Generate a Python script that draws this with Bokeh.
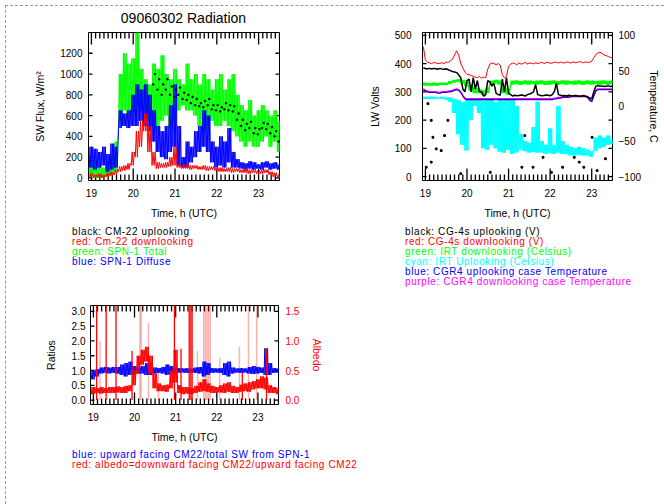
from bokeh.plotting import figure
from bokeh.models import Range1d, LinearAxis, FixedTicker, PrintfTickFormatter, Div
from bokeh.layouts import column, row
from bokeh.embed import file_html
from bokeh.resources import INLINE

FONT = "Liberation Sans"

# Start of each 0.1 h time bin (UTC hours)
bin_start = [18.95, 19.05, 19.15, 19.25, 19.35, 19.45, 19.55, 19.65, 19.75, 19.85,
             19.95, 20.05, 20.15, 20.25, 20.35, 20.45, 20.55, 20.65, 20.75, 20.85,
             20.95, 21.05, 21.15, 21.25, 21.35, 21.45, 21.55, 21.65, 21.75, 21.85,
             21.95, 22.05, 22.15, 22.25, 22.35, 22.45, 22.55, 22.65, 22.75, 22.85,
             22.95, 23.05, 23.15, 23.25, 23.35, 23.45]

# ---------------- SW radiation (W/m^2): low / high within each bin ----------------
spn_total_lo = [20, 0, 0, 0, 10, 30, 60, 550, 650, 600, 650, 700, 650, 600, 550, 500, 450, 550, 600, 500,
                550, 650, 700, 650, 650, 600, 500, 450, 500, 550, 500, 500, 550, 500, 450, 400, 350, 300, 350, 300,
                300, 350, 400, 300, 350, 250]
spn_total_hi = [180, 150, 120, 100, 160, 200, 350, 1000, 1200, 1100, 1150, 1400, 1050, 950, 900, 1100, 1050, 1180, 1000, 950,
                1050, 950, 900, 1100, 950, 1000, 900, 1000, 950, 850, 950, 1000, 850, 950, 1000, 800, 700, 650, 750, 600,
                650, 700, 650, 600, 650, 550]
spn_diffuse_lo = [100, 80, 100, 120, 60, 80, 100, 480, 500, 480, 500, 500, 550, 500, 450, 350, 250, 200, 180, 250,
                  300, 120, 100, 100, 150, 200, 250, 300, 250, 150, 100, 120, 100, 150, 100, 100, 90, 80, 90, 80,
                  90, 80, 100, 80, 90, 80]
spn_diffuse_hi = [300, 280, 250, 300, 230, 330, 300, 650, 620, 650, 800, 900, 850, 900, 800, 650, 500, 450, 500, 700,
                  900, 500, 200, 350, 300, 450, 500, 650, 600, 350, 300, 400, 350, 480, 250, 180, 150, 140, 160, 150,
                  130, 150, 160, 140, 150, 130]
cm22_down_lo = [0, 0, 0, 0, 10, 20, 30, 60, 70, 80, 120, 200, 300, 450, 250, 120, 90, 100, 100, 110,
                120, 100, 90, 90, 80, 90, 80, 80, 70, 80, 70, 60, 60, 60, 50, 60, 50, 50, 40, 50,
                40, 40, 50, 30, 10, 0]
cm22_down_hi = [40, 30, 40, 30, 50, 60, 80, 110, 120, 140, 250, 450, 550, 620, 500, 250, 150, 140, 150, 200,
                300, 130, 120, 130, 120, 120, 110, 120, 110, 110, 100, 100, 90, 100, 90, 90, 80, 90, 80, 80,
                70, 80, 80, 60, 50, 30]
# CM-22 uplooking, from 20.45 h on
cm22_up_lo = [900, 850, 800, 850, 800, 780, 800, 760, 750, 720, 700, 690, 680, 700, 660, 650, 640, 660, 650, 640,
              560, 500, 460, 480, 430, 420, 480, 470, 430, 400, 350]
cm22_up_hi = [1000, 950, 900, 950, 880, 850, 870, 820, 800, 780, 760, 720, 740, 760, 700, 700, 680, 720, 700, 690,
              620, 560, 520, 540, 480, 470, 530, 520, 490, 450, 400]

# ---------------- LW: volts (two samples per bin) and temperatures (C) ----------------
cg4_down_v = [(460, 412), (405, 402), (400, 404), (402, 400), (401, 403), (400, 405), (404, 410), (415, 430),
              (445, 430), (400, 385), (370, 362), (360, 358), (355, 352), (350, 355), (348, 352), (350, 380),
              (398, 402), (400, 396), (400, 395), (360, 350), (355, 390), (398, 402), (400, 396), (402, 398),
              (400, 405), (398, 402), (401, 399), (403, 400), (402, 405), (400, 403), (404, 401), (402, 405),
              (404, 402), (405, 403), (402, 406), (404, 402), (406, 403), (404, 407), (405, 403), (406, 404),
              (405, 408), (420, 432), (438, 440), (436, 430), (428, 425), (422, 420)]
cg4_up_v = [(385, 382), (382, 383), (381, 383), (382, 380), (383, 381), (380, 382), (378, 375), (372, 370),
            (368, 360), (350, 310), (300, 340), (345, 300), (350, 310), (340, 300), (300, 285), (290, 340),
            (335, 320), (330, 295), (290, 288), (345, 300), (350, 295), (290, 285), (288, 286), (287, 289),
            (288, 285), (290, 292), (295, 300), (325, 290), (288, 286), (287, 289), (288, 286), (290, 300),
            (330, 290), (288, 286), (287, 285), (288, 286), (285, 287), (286, 284), (285, 287), (284, 282),
            (278, 275), (300, 320), (322, 320), (321, 319), (320, 321), (319, 320)]
irt_down_lo = [29, 29, 29, 29, 30, 30, 31, 33, 34, 32, 28, 22, 18, 18, 16, 18, 30, 32, 30, 18,
               16, 30, 31, 30, 31, 30, 31, 30, 31, 30, 30, 31, 30, 31, 30, 31, 30, 31, 30, 31,
               30, 31, 30, 31, 30, 31]
irt_down_hi = [33, 32, 33, 32, 33, 33, 35, 37, 38, 37, 34, 30, 26, 24, 22, 26, 36, 37, 36, 26,
               24, 36, 36, 35, 36, 36, 35, 36, 36, 35, 36, 36, 35, 36, 36, 35, 36, 36, 35, 36,
               36, 35, 36, 36, 35, 36]
irt_up_lo = [10, 10, 10, 10, 10, 9, 6, -10, -40, -55, -63, -20, 0, -10, -60, -62, -55, -60, -65, -66,
             -62, -68, -66, -62, -64, -66, -65, -66, -66, -68, -67, -68, -66, -68, -68, -70, -70, -69, -70, -70,
             -72, -64, -60, -58, -55, -54]
irt_up_hi = [13, 13, 13, 12, 13, 12, 12, 10, 8, 5, 8, 10, 10, 10, 8, 10, 10, 5, 10, 8,
             10, 10, 0, -40, -50, -52, -30, 6, -50, -55, -32, -56, 0, -50, -55, -58, -60, -58, -60, -62,
             -64, -45, -42, -45, -42, -48]
case_down_t = [(24, 22), (21, 20), (20, 20), (20, 19), (19, 20), (20, 20), (21, 21), (22, 23),
               (24, 23), (20, 15), (11, 10), (10, 10), (10, 10), (10, 10), (10, 10), (10, 10),
               (10, 10), (10, 10), (10, 10), (10, 10), (10, 10), (10, 10), (10, 10), (10, 10),
               (10, 10), (10, 10), (10, 10), (10, 10), (10, 10), (10, 10), (10, 10), (10, 11),
               (11, 12), (12, 13), (13, 13), (13, 14), (14, 14), (14, 14), (14, 14), (14, 13),
               (9, 7), (15, 22), (24, 24), (24, 24), (24, 24), (24, 24)]
case_up_t = [(23, 21), (20, 19), (19, 19), (19, 18), (18, 19), (19, 19), (20, 20), (21, 22),
             (23, 22), (19, 14), (10, 9), (9, 9), (9, 9), (9, 9), (9, 9), (9, 9),
             (9, 9), (9, 9), (9, 9), (9, 9), (9, 9), (9, 9), (9, 9), (9, 9),
             (9, 9), (9, 9), (9, 9), (9, 9), (9, 9), (9, 9), (9, 9), (9, 10),
             (10, 11), (11, 12), (12, 12), (12, 13), (13, 13), (13, 13), (13, 13), (13, 12),
             (8, 6), (14, 21), (23, 23), (23, 23), (23, 23), (23, 23)]
# isolated CG-4 samples (h, V)
cg4_dots_h = [19.06, 19.14, 19.18, 19.26, 19.38, 19.46, 19.54, 19.14, 19.02, 21.20, 21.39, 21.32,
              21.59, 21.83, 22.03, 22.30, 22.58, 22.70, 22.81, 23.01, 23.13, 23.33, 19.85, 20.56]
cg4_dots_v = [258, 199, 139, 98, 92, 145, 199, 51, 33, 157, 145, 33,
              33, 68, 15, 33, 68, 51, 33, 139, 21, 63, 10, 15]

# ---------------- Ratios ----------------
ratio_lo = [0.70, 0.80, 0.90, 0.92, 0.90, 0.92, 0.90, 0.85, 0.80, 0.85, 0.85, 0.90, 0.90, 0.85, 0.85, 0.90,
            0.92, 0.90, 0.85, 0.88, 0.90, 0.92, 0.93, 0.92, 0.93, 0.92, 0.90, 0.80, 0.85, 0.92, 0.93, 0.92,
            0.85, 0.80, 0.90, 0.93, 0.92, 0.93, 0.90, 0.88, 0.90, 0.92, 0.85, 0.85, 0.92, 0.93]
ratio_hi = [1.00, 1.05, 1.10, 1.12, 1.10, 1.12, 1.12, 1.20, 1.25, 1.30, 1.15, 1.10, 1.15, 1.25, 1.25, 1.10,
            1.08, 1.12, 1.20, 1.15, 1.10, 1.08, 1.07, 1.08, 1.07, 1.10, 1.12, 1.30, 1.25, 1.08, 1.07, 1.08,
            1.25, 1.30, 1.10, 1.07, 1.08, 1.07, 1.12, 1.15, 1.12, 1.10, 1.75, 1.25, 1.08, 1.07]
albedo_lo = [0.10, 0.12, 0.11, 0.12, 0.12, 0.12, 0.13, 0.12, 0.12, 0.15, 0.25, 0.45, 0.60, 0.65, 0.45, 0.20,
             0.15, 0.15, 0.14, 0.20, 0.30, 0.12, 0.10, 0.11, 0.10, 0.12, 0.14, 0.15, 0.14, 0.12, 0.12, 0.13,
             0.12, 0.14, 0.12, 0.12, 0.14, 0.15, 0.14, 0.18, 0.20, 0.20, 0.18, 0.12, 0.12, 0.10]
albedo_hi = [0.22, 0.20, 0.22, 0.20, 0.22, 0.22, 0.23, 0.22, 0.24, 0.25, 0.50, 0.75, 0.85, 0.90, 0.75, 0.45,
             0.28, 0.25, 0.26, 0.50, 0.85, 0.25, 0.22, 0.22, 0.20, 0.24, 0.30, 0.35, 0.28, 0.24, 0.22, 0.25,
             0.28, 0.30, 0.24, 0.22, 0.26, 0.28, 0.30, 0.32, 0.35, 0.40, 0.38, 0.25, 0.22, 0.20]
# albedo spikes (h, albedo); values above 1.6 run off the top
spike_h = [19.08, 19.31, 19.55, 19.94, 20.97, 21.13, 21.33, 21.37, 21.40, 22.62, 23.21]
spike_v = [3.0, 3.0, 3.0, 0.83, 3.0, 0.87, 3.0, 3.0, 3.0, 0.47, 0.87]
weak_spike_h = [19.16, 20.13, 20.16, 20.34, 20.58, 21.53, 21.68, 21.72, 21.76, 21.80, 21.84, 22.07,
                22.55, 22.77, 22.97]
weak_spike_v = [1.0, 3.0, 3.0, 1.3, 0.55, 0.83, 3.0, 3.0, 3.0, 3.0, 3.0, 0.72,
                0.9, 3.0, 3.0]

hour_ticks = [19, 20, 21, 22, 23]
minor_hours = [round(19.0 + 0.1 * k, 1) for k in range(46)]
X_START, X_END = 18.93, 23.5


def band(lo, hi, n=4, starts=bin_start, step=0.1):
    """Saw-tooth trace through the low/high value of every bin."""
    xs, ys = [], []
    for t, a, b in zip(starts, lo, hi):
        for k in range(n):
            xs.append(t + step * k / n)
            ys.append(a if k % 2 == 0 else b)
    return xs, ys


def pairs(vals, starts=bin_start, step=0.1):
    xs, ys = [], []
    for t, (a, b) in zip(starts, vals):
        xs += [t, t + step / 2]
        ys += [a, b]
    return xs, ys


def style_axis(ax, color="black"):
    ax.axis_line_color = None
    ax.major_tick_line_color = None
    ax.minor_tick_line_color = None
    ax.major_tick_in = 0
    ax.major_tick_out = 0
    ax.minor_tick_in = 0
    ax.minor_tick_out = 0
    ax.major_label_text_font = FONT
    ax.major_label_text_font_size = "10px"
    ax.major_label_text_color = color
    ax.axis_label_text_font = FONT
    ax.axis_label_text_font_size = "10.5px"
    ax.axis_label_text_font_style = "normal"
    ax.axis_label_text_color = color


def inner_ticks(p, y0, y1, frame_w, frame_h, left_ticks, right_ticks):
    """IDL-style box ticks pointing into the frame on all four sides."""
    per_px_y = (y1 - y0) / frame_h
    per_px_x = (X_END - X_START) / frame_w
    tx, ty = [], []
    for h in minor_hours:
        length = (12 if h in hour_ticks else 6) * per_px_y
        tx.append([h, h])
        ty.append([y0, y0 + length])
        tx.append([h, h])
        ty.append([y1, y1 - length])
    for v in left_ticks:
        tx.append([X_START, X_START + 4 * per_px_x])
        ty.append([v, v])
    for v in right_ticks:
        tx.append([X_END, X_END - 4 * per_px_x])
        ty.append([v, v])
    p.multi_line(xs=tx, ys=ty, line_color="black", line_width=1.3)


def base_figure(width, height, left, right, top, bottom, y0, y1):
    p = figure(width=width, height=height, x_range=Range1d(X_START, X_END), y_range=Range1d(y0, y1),
               output_backend="svg", toolbar_location=None,
               min_border_left=left, min_border_right=right, min_border_top=top, min_border_bottom=bottom)
    p.grid.visible = False
    p.outline_line_color = "black"
    p.outline_line_width = 1
    p.background_fill_color = "white"
    p.border_fill_color = "white"
    xa = p.xaxis[0]
    xa.ticker = FixedTicker(ticks=hour_ticks)
    style_axis(xa)
    xa.axis_label = "Time, h (UTC)"
    xa.major_label_standoff = 8
    xa.axis_label_standoff = 7
    return p


def legend_div(lines, width, height, pad_left):
    rows = "".join(
        f'<div style="color:{c};white-space:nowrap;">{t}</div>' for t, c in lines)
    html = (f'<div style="font-family:\'{FONT}\';font-size:10px;line-height:10px;letter-spacing:0.6px;'
            f'padding-top:5px;padding-left:{pad_left}px;">{rows}</div>')
    return Div(text=html, width=width, height=height, margin=0)


# ---------------- Panel 1: SW flux ----------------
SW_Y0, SW_Y1 = -25, 1400
p1 = base_figure(326, 194, 82, 53, 4, 42, SW_Y0, SW_Y1)
sw_ticks = [0, 200, 400, 600, 800, 1000, 1200]
inner_ticks(p1, SW_Y0, SW_Y1, 191, 148, sw_ticks, sw_ticks)
ya = p1.yaxis[0]
ya.ticker = FixedTicker(ticks=sw_ticks)
style_axis(ya)
ya.axis_label = "SW Flux, W/m²"
ya.major_label_standoff = 6
ya.axis_label_standoff = 11

xs, ys = band(spn_total_lo, spn_total_hi, n=6)
p1.line(xs, ys, color="#00ff00", line_width=1)
xs, ys = band(spn_diffuse_lo, spn_diffuse_hi, n=6)
p1.line(xs, ys, color="#0000ff", line_width=1)
xs, ys = band(cm22_down_lo, cm22_down_hi)
p1.line(xs, ys, color="#ff0000", line_width=1)
up_start = bin_start[15:]
p1.scatter([t + 0.03 for t in up_start] + [t + 0.07 for t in up_start], cm22_up_lo + cm22_up_hi,
           size=1.3, color="black", marker="square")

title1 = Div(text=f'<div style="font-family:\'{FONT}\';font-size:14px;line-height:24px;'
                  f'text-align:center;width:191px;margin-left:82px;color:black;">09060302 Radiation</div>',
             width=326, height=22, margin=0)
legend1 = legend_div([("black: CM-22 uplooking", "black"),
                      ("red: Cm-22 downlooking", "#ff0000"),
                      ("green: SPN-1 Total", "#00ff00"),
                      ("blue: SPN-1 Diffuse", "#0000ff")], 326, 68, 66)

# ---------------- Panel 2: LW volts / temperatures ----------------
LW_Y0, LW_Y1 = -14, 510
p2 = base_figure(332, 216, 90, 52, 26, 42, LW_Y0, LW_Y1)
p2.extra_y_ranges = {"temp": Range1d(-105.6, 104)}
lw_ticks = [0, 100, 200, 300, 400, 500]
inner_ticks(p2, LW_Y0, LW_Y1, 190, 148, lw_ticks, lw_ticks)
ya = p2.yaxis[0]
ya.ticker = FixedTicker(ticks=lw_ticks)
style_axis(ya)
ya.axis_label = "LW Volts"
ya.major_label_standoff = 11
ya.axis_label_standoff = 11
ra = LinearAxis(y_range_name="temp", ticker=FixedTicker(ticks=[-100, -50, 0, 50, 100]))
style_axis(ra)
ra.axis_label = "Temperature, C"
ra.major_label_standoff = 6
ra.axis_label_standoff = 4
p2.add_layout(ra, "right")

p2.scatter(cg4_dots_h, cg4_dots_v, size=1.8, color="black", marker="square")
xs, ys = band(irt_up_lo, irt_up_hi, n=8)
p2.line(xs, ys, color="#00ffff", line_width=1, y_range_name="temp")
xs, ys = band(irt_down_lo, irt_down_hi, n=6)
p2.line(xs, ys, color="#00ff00", line_width=1.5, y_range_name="temp")
xs, ys = pairs(case_down_t)
p2.line(xs, ys, color="#ff00ff", line_width=1.5, y_range_name="temp")
xs, ys = pairs(case_up_t)
p2.line(xs, ys, color="#3000c0", line_width=1.2, y_range_name="temp")
xs, ys = pairs(cg4_up_v)
p2.line(xs, ys, color="black", line_width=1.5)
xs, ys = pairs(cg4_down_v)
p2.line(xs, ys, color="#ff0000", line_width=1)

legend2 = legend_div([("black: CG-4s uplooking (V)", "black"),
                      ("red: CG-4s downlooking (V)", "#ff0000"),
                      ("green: IRT downlooking (Celsius)", "#00ff00"),
                      ("cyan: IRT Uplooking (Celsius)", "#00ffff"),
                      ("blue: CGR4 uplooking case Temperature", "#0000ff"),
                      ("purple: CGR4 downlooking case Temperature", "#ff00ff")], 332, 68, 73)

# ---------------- Panel 3: ratios / albedo ----------------
RT_Y0, RT_Y1 = -0.15, 3.2
p3 = base_figure(326, 155, 84, 54, 15, 40, RT_Y0, RT_Y1)
p3.extra_y_ranges = {"alb": Range1d(-0.075, 1.6)}
ratio_ticks = [0, 0.5, 1.0, 1.5, 2.0, 2.5, 3.0]
inner_ticks(p3, RT_Y0, RT_Y1, 188, 100, ratio_ticks, [0, 1.0, 2.0, 3.0])
ya = p3.yaxis[0]
ya.ticker = FixedTicker(ticks=ratio_ticks)
ya.formatter = PrintfTickFormatter(format="%.1f")
style_axis(ya)
ya.axis_label = "Ratios"
ya.major_label_standoff = 5
ya.axis_label_standoff = 12
ra = LinearAxis(y_range_name="alb", ticker=FixedTicker(ticks=[0, 0.5, 1.0, 1.5]),
                formatter=PrintfTickFormatter(format="%.1f"))
style_axis(ra, color="#ff0000")
ra.axis_label = "Albedo"
ra.major_label_standoff = 7
ra.axis_label_standoff = 9
p3.add_layout(ra, "right")

p3.segment(weak_spike_h, [0] * len(weak_spike_h), weak_spike_h, weak_spike_v,
           color="#ff0000", alpha=0.3, line_width=1.5, y_range_name="alb")
xs, ys = band(ratio_lo, ratio_hi, n=6)
p3.line(xs, ys, color="#0000ff", line_width=1)
xs, ys = band(albedo_lo, albedo_hi, n=6)
p3.line(xs, ys, color="#ff0000", line_width=1, y_range_name="alb")
p3.segment(spike_h, [0] * len(spike_h), spike_h, spike_v,
           color="#ff0000", line_width=1.3, y_range_name="alb")

legend3 = legend_div([("blue: upward facing CM22/total SW from SPN-1", "#0000ff"),
                      ("red: albedo=downward facing CM22/upward facing CM22", "#ff0000")], 326, 59, 66)

layout = column(row(column(title1, p1, legend1), column(p2, legend2)),
                column(p3, legend3),
                styles={"margin-left": "5px", "margin-top": "5px",
                        "border-left": "1px dashed #999999", "border-top": "1px dashed #999999"})

open("out.html", "w").write(file_html(layout, INLINE))
